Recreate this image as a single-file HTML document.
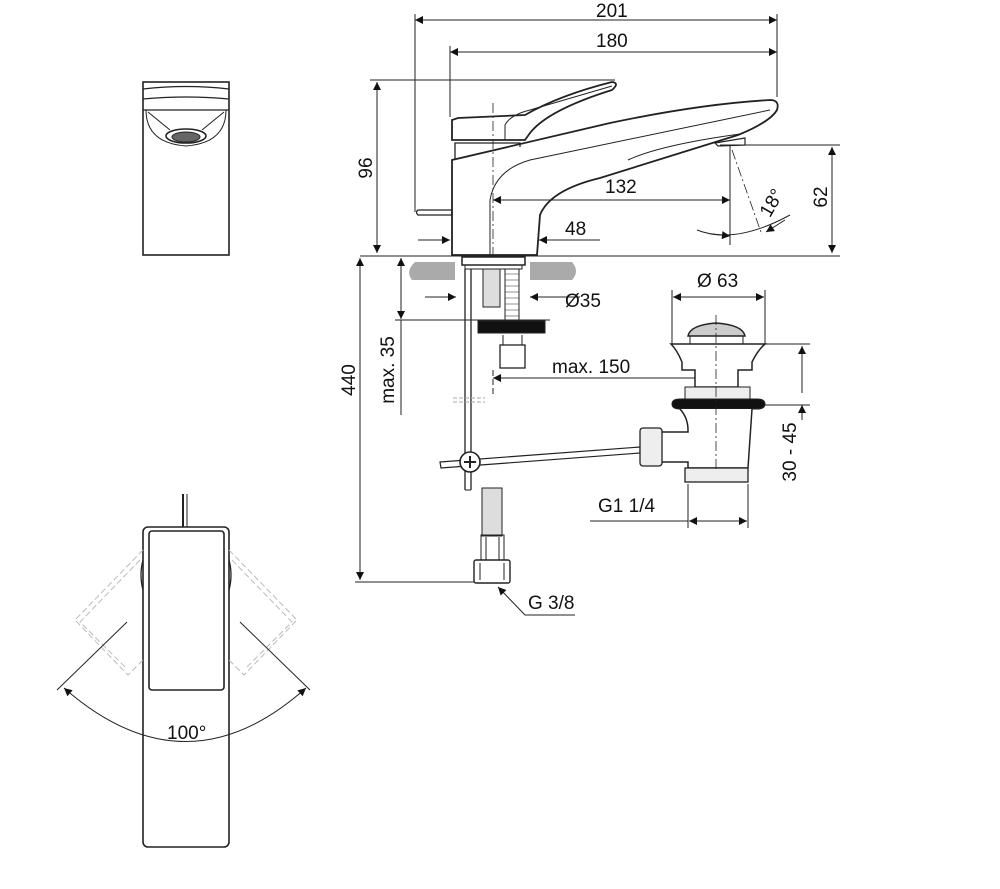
<!DOCTYPE html>
<html><head><style>
html,body{margin:0;padding:0;background:#fff;}
svg{display:block;}
text{font-family:"Liberation Sans",Arial,sans-serif;font-size:19px;fill:#111;}
</style></head><body>
<svg width="1000" height="889" viewBox="0 0 1000 889" xmlns="http://www.w3.org/2000/svg">
<defs>
<marker id="a" viewBox="0 0 10 10" refX="10" refY="5" markerWidth="12" markerHeight="8" orient="auto-start-reverse" markerUnits="userSpaceOnUse"><path d="M0,0L10,5L0,10z" fill="#111"/></marker>
</defs>
<g stroke="#222" stroke-width="1" fill="none">
<!-- top-left front view -->
<rect x="143" y="82" width="86" height="173" stroke-width="1.6"/>
<path d="M143,89 Q186,84 229,89 M143,99 Q186,95 229,99 M143,110 L229,110" stroke-width="1.3"/>
<path d="M146,110 Q146,143 186,146 Q226,143 226,110" stroke-width="1"/>
<path d="M148,112 L170,130 M224,112 L202,130"/>
<ellipse cx="186" cy="136" rx="20" ry="7" stroke-width="1.6"/>
<ellipse cx="186" cy="137" rx="14" ry="5" fill="#666"/>

<!-- bottom-left top view -->
<line x1="183" y1="494" x2="183" y2="527" stroke-width="2"/>
<line x1="187" y1="494" x2="187" y2="527" stroke-width="1"/>
<rect x="143" y="527" width="86" height="320" rx="5" stroke-width="1.6"/>
<rect x="149" y="531" width="75" height="159" rx="3" stroke-width="1.6"/>
<g stroke="#bbb" stroke-dasharray="6,3">
<path d="M143,550 L75,620 L128,675 L143,660"/>
<path d="M140,560 L80,622 L126,668"/>
<path d="M229,550 L297,620 L244,675 L229,660"/>
<path d="M232,560 L292,622 L246,668"/>
</g>
<path d="M143,560 Q139,575 143,590 M229,560 Q233,575 229,590" stroke-width="1.3"/>
<line x1="127" y1="622" x2="57" y2="690"/>
<line x1="240" y1="622" x2="310" y2="690"/>
<path d="M64,688 Q186,795 306,688" marker-start="url(#a)" marker-end="url(#a)"/>

<!-- dims top -->
<line x1="415" y1="20" x2="777" y2="20" marker-start="url(#a)" marker-end="url(#a)"/>
<line x1="450" y1="52" x2="777" y2="52" marker-start="url(#a)" marker-end="url(#a)"/>
<line x1="415" y1="14" x2="415" y2="212"/>
<line x1="777" y1="14" x2="777" y2="97"/>
<line x1="450" y1="46" x2="450" y2="117"/>
<line x1="370" y1="80" x2="615" y2="80"/>
<line x1="377" y1="82" x2="377" y2="253" marker-start="url(#a)" marker-end="url(#a)"/>

<!-- faucet body -->
<path d="M452,255 L452,160 L610,123 Q700,104 770,100 Q780,100 777,110 Q770,122 738,135 Q690,150 600,178 Q550,190 540,215 L537,255 Z" stroke-width="1.8" fill="#fff"/>
<path d="M455,160 L455,143 L520,143 L520,147" stroke-width="1.3"/>
<path d="M490,255 L490,200 Q495,170 530,160 L770,110" stroke-width="1"/>
<path d="M628,160 Q660,145 740,134" stroke-width="1"/>
<path d="M452,120 L452,140 L525,140 L530,133 Q548,110 612,90 Q620,83 612,82 Q560,95 525,115 L458,118 Z" stroke-width="1.8" fill="#fff"/>
<path d="M505,140 L505,125 Q510,115 530,110 L612,86" stroke-width="1"/>
<path d="M715,143 L745,138 L745,145 L718,146 Z" stroke-width="1.2"/>
<path d="M418,210 L452,210 L452,215 L418,215 Q415,212 418,210Z" stroke-width="1.3"/>
<line x1="493" y1="103" x2="493" y2="255" stroke-dasharray="10,3,2,3" stroke-width="0.8"/>
<line x1="493" y1="200" x2="730" y2="200" marker-start="url(#a)" marker-end="url(#a)"/>
<line x1="730" y1="145" x2="730" y2="245"/>
<line x1="720" y1="145" x2="840" y2="145"/>
<line x1="832" y1="147" x2="832" y2="253" marker-start="url(#a)" marker-end="url(#a)"/>
<line x1="732" y1="150" x2="762" y2="235" stroke-dasharray="10,3,2,3" stroke-width="0.8"/>
<path d="M697,230 Q735,245 790,215" />
<path d="M712,234 L730,236" marker-end="url(#a)"/>
<path d="M785,220 L766,232" marker-end="url(#a)"/>
<line x1="418" y1="240" x2="450" y2="240" marker-end="url(#a)"/>
<line x1="600" y1="240" x2="539" y2="240" marker-end="url(#a)"/>
<line x1="360" y1="256" x2="840" y2="256"/>

<!-- counter -->
<path d="M415,262 L455,262 L455,280 L412,280 Q405,271 415,262Z M530,262 L572,262 Q580,271 572,280 L530,280Z" fill="#aaa" stroke="none"/>
<rect x="462" y="257" width="63" height="8" stroke-width="1.5" fill="#fff"/>
<rect x="465" y="265" width="57" height="4"/>
<!-- shank -->
<rect x="483" y="269" width="17" height="38" fill="#ddd"/>
<rect x="505" y="269" width="14" height="52"/>
<path d="M505,274 L519,274 M505,280 L519,280 M505,286 L519,286 M505,292 L519,292 M505,298 L519,298 M505,304 L519,304 M505,310 L519,310 M505,316 L519,316" stroke-width="0.6"/>
<rect x="478" y="321" width="67" height="12" fill="#111"/>
<rect x="500" y="345" width="25" height="23" stroke-width="1.3"/>
<line x1="503" y1="335" x2="503" y2="345"/><line x1="522" y1="335" x2="522" y2="345"/>
<!-- rod -->
<line x1="465" y1="269" x2="465" y2="490" stroke-width="1.3"/>
<line x1="471" y1="269" x2="471" y2="490" stroke-width="1.3"/>
<line x1="465" y1="490" x2="471" y2="490"/>
<line x1="453" y1="398" x2="485" y2="398" stroke="#aaa" stroke-dasharray="4,2"/>
<line x1="453" y1="402" x2="485" y2="402" stroke="#aaa" stroke-dasharray="4,2"/>
<path d="M440,462 L640,447 L640,453 L441,468Z" fill="#fff" stroke-width="1.2"/>
<circle cx="470" cy="462" r="10" stroke-width="1.6" fill="#fff"/>
<path d="M464,462 L476,462 M470,456 L470,468" stroke-width="2"/>
<!-- hose -->
<rect x="482" y="488" width="20" height="48" fill="#ddd"/>
<rect x="481" y="535" width="23" height="25"/>
<path d="M486,537 L486,560 M499,537 L499,560"/>
<rect x="474" y="560" width="36" height="23" rx="2" stroke-width="1.4"/>
<line x1="480" y1="563" x2="480" y2="580"/><line x1="504" y1="563" x2="504" y2="580"/>
<!-- dims lower -->
<line x1="360" y1="258" x2="360" y2="580" marker-start="url(#a)" marker-end="url(#a)"/>
<line x1="355" y1="582" x2="475" y2="582"/>
<line x1="401" y1="258" x2="401" y2="319" marker-start="url(#a)" marker-end="url(#a)"/>
<line x1="401" y1="320" x2="401" y2="415"/>
<line x1="395" y1="320" x2="550" y2="320"/>
<line x1="425" y1="297" x2="456" y2="297" marker-end="url(#a)"/>
<line x1="580" y1="297" x2="530" y2="297" marker-end="url(#a)"/>
<line x1="493" y1="370" x2="493" y2="395" stroke-dasharray="6,3"/>
<line x1="493" y1="378" x2="716" y2="378" marker-start="url(#a)" marker-end="url(#a)"/>
<path d="M575,615 L525,615 L498,587" marker-end="url(#a)"/>

<!-- waste -->
<path d="M688,336 Q690,325 716,323 Q743,325 745,336Z" stroke-width="1.5" fill="#ccc"/>
<rect x="690" y="336" width="53" height="8"/>
<path d="M671,344 L765,344 Q758,350 752,362 L752,370 L738,370 L738,387 L695,387 L695,370 L682,370 L682,362 Q677,350 671,344Z" stroke-width="1.5" fill="#fff"/>
<rect x="685" y="387" width="65" height="13" fill="#eee"/>
<path d="M672,404 Q672,399 680,399 L757,399 Q765,399 765,404 Q765,409 757,409 L680,409 Q672,409 672,404Z" fill="#111"/>
<path d="M680,409 Q688,418 688,430 L688,432 L660,432 L660,462 L688,462 L688,468 L748,468 L752,409" stroke-width="1.5" fill="#fff"/>
<rect x="685" y="468" width="63" height="14" fill="#eee" stroke-width="1.3"/>
<rect x="640" y="428" width="22" height="38" rx="3" fill="#eee" stroke-width="1.3"/>
<line x1="716" y1="315" x2="716" y2="470" stroke-dasharray="10,3,2,3" stroke-width="0.8"/>
<line x1="672" y1="290" x2="672" y2="344"/>
<line x1="765" y1="290" x2="765" y2="344"/>
<line x1="673" y1="297" x2="764" y2="297" marker-start="url(#a)" marker-end="url(#a)"/>
<line x1="765" y1="344" x2="810" y2="344"/>
<line x1="765" y1="405" x2="810" y2="405"/>
<line x1="802" y1="346" x2="802" y2="393" marker-start="url(#a)"/>
<line x1="802" y1="420" x2="802" y2="405" marker-end="url(#a)"/>
<line x1="688" y1="484" x2="688" y2="528"/>
<line x1="748" y1="484" x2="748" y2="528"/>
<line x1="590" y1="521" x2="688" y2="521"/>
<line x1="689" y1="521" x2="747" y2="521" marker-start="url(#a)" marker-end="url(#a)"/>
</g>
<text x="596" y="17">201</text>
<text x="596" y="47">180</text>
<text x="605" y="193">132</text>
<text x="565" y="235">48</text>
<text x="565" y="307">Ø35</text>
<text x="697" y="287">Ø 63</text>
<text x="552" y="373">max. 150</text>
<text x="598" y="512">G1 1/4</text>
<text x="528" y="609">G 3/8</text>
<text x="167" y="739">100°</text>
<text transform="translate(372,168) rotate(-90)" text-anchor="middle">96</text>
<text transform="translate(827,197) rotate(-90)" text-anchor="middle">62</text>
<text transform="translate(355,380) rotate(-90)" text-anchor="middle">440</text>
<text transform="translate(394,370) rotate(-90)" text-anchor="middle">max. 35</text>
<text transform="translate(796,452) rotate(-90)" text-anchor="middle">30 - 45</text>
<text transform="translate(777,206) rotate(-60)" text-anchor="middle">18°</text>
</svg>
</body></html>
